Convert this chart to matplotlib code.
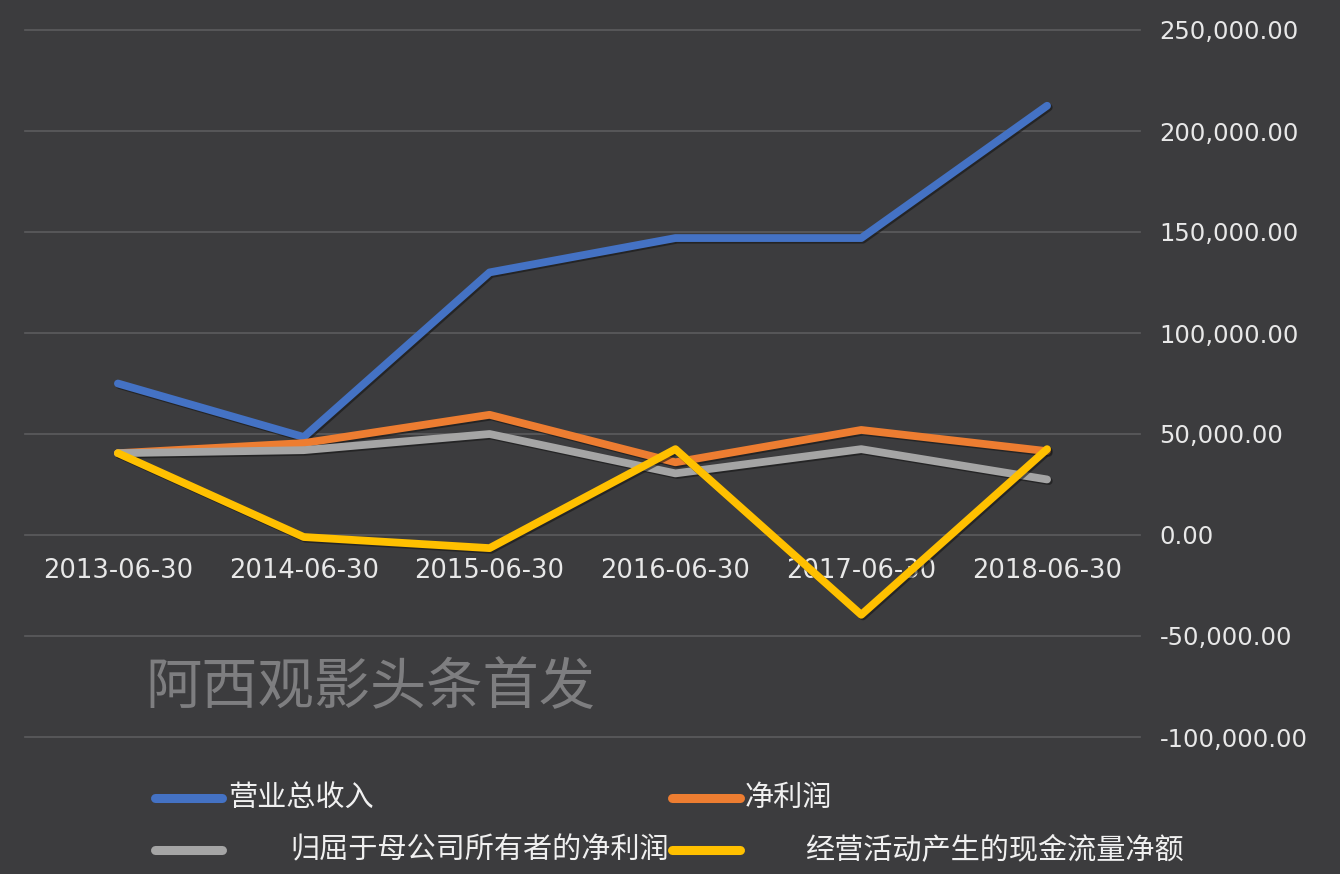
import matplotlib
matplotlib.use("Agg")
import matplotlib.pyplot as plt
from matplotlib.lines import Line2D
from matplotlib.ticker import FuncFormatter
import matplotlib.patheffects as pe

plt.rcParams['font.family'] = ['Noto Sans CJK SC', 'DejaVu Sans']

categories = ["2013-06-30", "2014-06-30", "2015-06-30", "2016-06-30", "2017-06-30", "2018-06-30"]
series_names = ["营业总收入", "净利润", "归屈于母公司所有者的净利润", "经营活动产生的现金流量净额"]
revenue = [75000, 48500, 130000, 147000, 147000, 212500]
net_profit = [40500, 45500, 59500, 36000, 52000, 41500]
parent_profit = [40500, 42000, 50000, 30500, 42500, 27500]
cash_flow = [40500, -1000, -6500, 42500, -39500, 42500]
y_ticks = [-100000, -50000, 0, 50000, 100000, 150000, 200000, 250000]
watermark = "阿西观影头条首发"

colors = ["#4472C4", "#ED7D31", "#A5A5A5", "#FFC000"]
all_series = [revenue, net_profit, parent_profit, cash_flow]

W, H = 1340, 874
fig = plt.figure(figsize=(W / 100, H / 100), dpi=100, facecolor="#3c3c3e")
ax = fig.add_axes([25 / W, 1 - 737 / H, 1115 / W, 707 / H])
ax.set_facecolor("none")

x = list(range(len(categories)))
shadow = [pe.SimpleLineShadow(offset=(1.2, -1.2), shadow_color="#151515", alpha=0.6), pe.Normal()]
for vals, c in zip(all_series, colors):
    ax.plot(x, vals, color=c, lw=5.6, solid_joinstyle="round", solid_capstyle="round",
            path_effects=shadow, zorder=3)

ax.set_xlim(-0.5, len(categories) - 0.5)
ax.set_ylim(y_ticks[0], y_ticks[-1])
ax.set_yticks(y_ticks)
ax.yaxis.tick_right()
ax.yaxis.set_major_formatter(FuncFormatter(lambda v, p: f"{v:,.2f}"))
ax.tick_params(axis="y", length=0, pad=14, labelsize=17.5, labelcolor="#e8e8e8")
for lab in ax.get_yticklabels():
    lab.set_fontfamily("DejaVu Sans")

ax.set_xticks(x)
ax.set_xticklabels(categories)
ax.spines['bottom'].set_position(('data', 0))
ax.tick_params(axis="x", length=0, pad=16.5, labelsize=18.5, labelcolor="#e8e8e8")
for lab in ax.get_xticklabels():
    lab.set_fontfamily("DejaVu Sans")
    lab.set_zorder(2)

for s in ax.spines.values():
    s.set_visible(False)
ax.grid(axis="y", color="#5c5c5e", lw=1.2)
ax.set_axisbelow(True)
for gl in ax.get_ygridlines():
    gl.set_clip_on(False)

# watermark
fig.text(145 / W, 1 - 688 / H, watermark, fontsize=40.5, color="#7e7e80", va="center", ha="left")

# legend (manual, mimicking Excel layout)
leg_items = [
    (155, 222, 228, 798),
    (672, 740, 745, 798),
    (155, 222, 290, 850),
    (672, 740, 805, 850),
]
for (x0, x1, tx, ty), name, c in zip(leg_items, series_names, colors):
    fig.add_artist(Line2D([x0 / W, x1 / W], [1 - ty / H, 1 - ty / H], transform=fig.transFigure,
                          color=c, lw=6.5, solid_capstyle="round"))
    fig.text(tx / W, 1 - ty / H, name, fontsize=21, color="#f0f0f0", va="center", ha="left")

fig.savefig("out.png", dpi=100, facecolor=fig.get_facecolor())
